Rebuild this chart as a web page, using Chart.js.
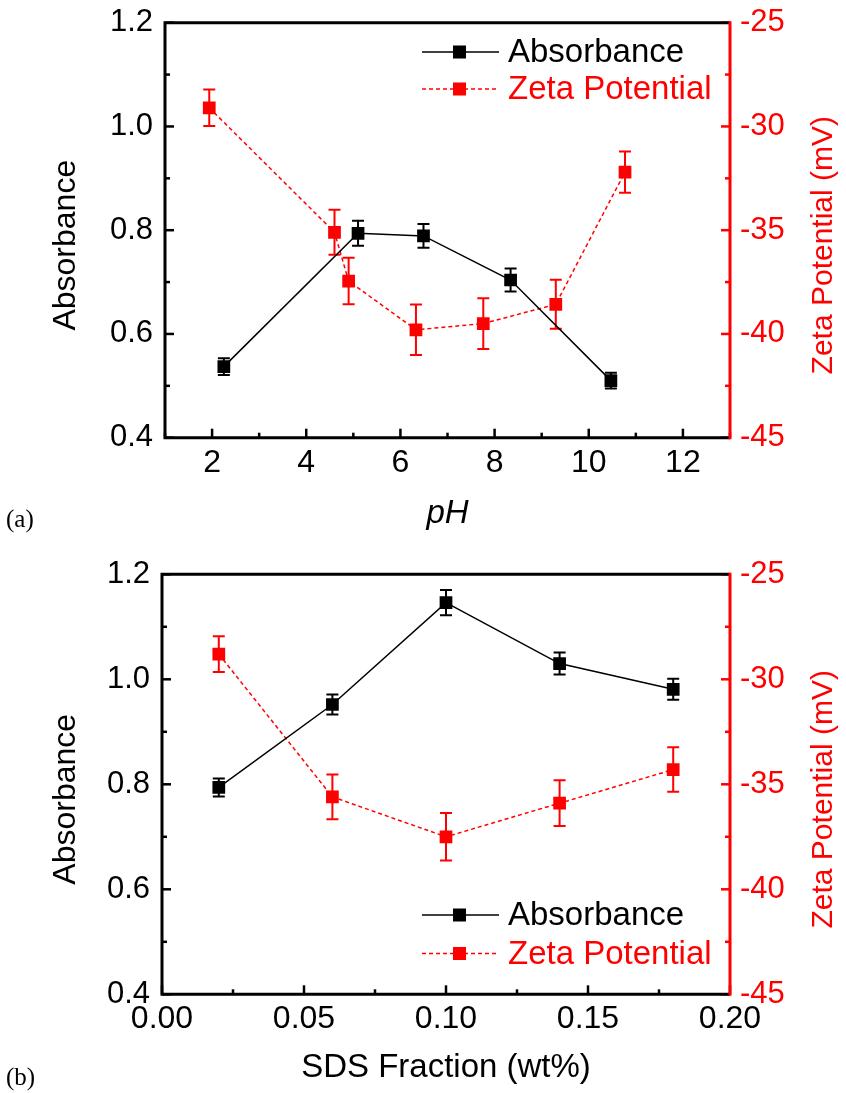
<!DOCTYPE html>
<html>
<head>
<meta charset="utf-8">
<script src="https://cdn.jsdelivr.net/npm/chart.js@4"></script>
<style>
  body { margin: 0; background: #fff; width: 846px; height: 1093px; position: relative; overflow: hidden; }
  canvas { position: absolute; left: 0; }
  .tag { position: absolute; left: 6px; font: 25px "Liberation Serif", "Times New Roman", serif; color: #000; }
</style>
</head>
<body>
<canvas id="chartA" width="846" height="545" style="top:0"></canvas>
<canvas id="chartB" width="846" height="548" style="top:545px"></canvas>
<div class="tag" style="top:505px">(a)</div>
<div class="tag" style="top:1063px">(b)</div>
<script>
// panel (a): pH series
var phAbs = [2.25, 5.10, 6.49, 8.34, 10.47];
var absA = [0.537, 0.794, 0.789, 0.704, 0.510];
var absAErr = [0.016, 0.024, 0.023, 0.022, 0.015];
var phZeta = [1.94, 4.60, 4.90, 6.33, 7.76, 9.30, 10.77];
var zetaA = [-29.1, -35.1, -37.45, -39.8, -39.5, -38.57, -32.2];
var zetaAErr = [0.88, 1.08, 1.12, 1.22, 1.22, 1.18, 0.99];

// panel (b): SDS fraction series
var sds = [0.02, 0.06, 0.10, 0.14, 0.18];
var absB = [0.794, 0.952, 1.146, 1.030, 0.981];
var absBErr = [0.017, 0.019, 0.024, 0.021, 0.020];
var zetaB = [-28.8, -35.6, -37.5, -35.9, -34.3];
var zetaBErr = [0.85, 1.07, 1.13, 1.09, 1.06];

var FONT = '"Liberation Sans", Arial, sans-serif';
Chart.defaults.font.family = FONT;
Chart.defaults.color = '#000';

function toPoints(xs, ys) {
  return xs.map(function(x, i) { return { x: x, y: ys[i] }; });
}

// error bars, inward ticks, frame, legend and y titles
var decor = {
  id: 'decor',
  beforeDatasetsDraw: function(chart) {
    var ctx = chart.ctx;
    chart.data.datasets.forEach(function(ds, i) {
      var meta = chart.getDatasetMeta(i);
      var yScale = chart.scales[ds.yAxisID];
      ctx.save();
      ctx.strokeStyle = ds.borderColor;
      ctx.lineWidth = 2;
      meta.data.forEach(function(pt, j) {
        var v = ds.data[j].y, e = ds.errors[j];
        var y1 = yScale.getPixelForValue(v + e), y2 = yScale.getPixelForValue(v - e);
        ctx.beginPath();
        ctx.moveTo(pt.x, y1); ctx.lineTo(pt.x, y2);
        ctx.moveTo(pt.x - 6, y1); ctx.lineTo(pt.x + 6, y1);
        ctx.moveTo(pt.x - 6, y2); ctx.lineTo(pt.x + 6, y2);
        ctx.stroke();
      });
      ctx.restore();
    });
  },
  afterDatasetsDraw: function(chart, args, opts) {
    var ctx = chart.ctx, a = chart.chartArea;
    var sx = chart.scales.x, sy = chart.scales.y, sy1 = chart.scales.y1;
    ctx.save();
    ctx.lineWidth = 2.5;
    ctx.strokeStyle = '#000';
    sx.ticks.forEach(function(t) {
      var px = sx.getPixelForValue(t.value), len = t.label !== '' ? 9 : 5;
      ctx.beginPath(); ctx.moveTo(px, a.bottom); ctx.lineTo(px, a.bottom - len); ctx.stroke();
    });
    sy.ticks.forEach(function(t) {
      var py = sy.getPixelForValue(t.value), len = t.label !== '' ? 9 : 5;
      ctx.beginPath(); ctx.moveTo(a.left, py); ctx.lineTo(a.left + len, py); ctx.stroke();
    });
    ctx.strokeStyle = '#ff0000';
    sy1.ticks.forEach(function(t) {
      var py = sy1.getPixelForValue(t.value), len = t.label !== '' ? 9 : 5;
      ctx.beginPath(); ctx.moveTo(a.right, py); ctx.lineTo(a.right - len, py); ctx.stroke();
    });

    // frame
    ctx.lineWidth = 3;
    ctx.strokeStyle = '#000';
    ctx.beginPath();
    ctx.moveTo(a.right, a.top); ctx.lineTo(a.left, a.top);
    ctx.lineTo(a.left, a.bottom); ctx.lineTo(a.right, a.bottom);
    ctx.stroke();
    ctx.strokeStyle = '#ff0000';
    ctx.beginPath(); ctx.moveTo(a.right, a.top - 1.5); ctx.lineTo(a.right, a.bottom + 1.5); ctx.stroke();

    // legend
    ctx.font = '33px ' + FONT;
    ctx.textBaseline = 'middle';
    chart.data.datasets.forEach(function(ds, i) {
      var y = opts.legendY[i];
      ctx.strokeStyle = ds.borderColor;
      ctx.lineWidth = ds.borderWidth;
      ctx.setLineDash(ds.borderDash || []);
      ctx.beginPath(); ctx.moveTo(422, y); ctx.lineTo(499, y); ctx.stroke();
      ctx.setLineDash([]);
      ctx.fillStyle = ds.backgroundColor;
      ctx.fillRect(453, y - 6.5, 13, 13);
      ctx.fillText(ds.label, 508, y + 1);
    });

    // y titles
    var cy = (a.top + a.bottom) / 2 + 15;
    ctx.textAlign = 'center';
    ctx.font = '32px ' + FONT;
    ctx.translate(66, cy); ctx.rotate(-Math.PI / 2);
    ctx.fillStyle = '#000';
    ctx.fillText('Absorbance', 0, 0);
    ctx.setTransform(1, 0, 0, 1, 0, 0);
    ctx.font = '30px ' + FONT;
    ctx.translate(824, cy); ctx.rotate(-Math.PI / 2);
    ctx.fillStyle = '#ff0000';
    ctx.fillText('Zeta Potential (mV)', 0, 0);
    ctx.restore();
  }
};

function makeChart(id, cfg) {
  var el = document.getElementById(id);
  if (!el) { console.error('canvas ' + id + ' not found'); return; }
  var H = el.height;
  return new Chart(el.getContext('2d'), {
    type: 'line',
    data: {
      datasets: [{
        label: 'Absorbance',
        data: cfg.abs,
        errors: cfg.absErr,
        yAxisID: 'y',
        borderColor: '#000000',
        backgroundColor: '#000000',
        borderWidth: 1.5,
        pointStyle: 'rect',
        pointRadius: 9,
        pointBorderWidth: 0,
        tension: 0
      }, {
        label: 'Zeta Potential',
        data: cfg.zeta,
        errors: cfg.zetaErr,
        yAxisID: 'y1',
        borderColor: '#ff0000',
        backgroundColor: '#ff0000',
        borderWidth: 1.5,
        borderDash: [4, 3],
        pointStyle: 'rect',
        pointRadius: 9,
        pointBorderWidth: 0,
        tension: 0
      }]
    },
    options: {
      responsive: false,
      animation: false,
      layout: { padding: { top: cfg.top, left: 0, right: 0, bottom: 0 } },
      plugins: {
        legend: { display: false },
        tooltip: { enabled: false },
        decor: { legendY: cfg.legendY }
      },
      scales: {
        x: {
          type: 'linear',
          min: cfg.xMin, max: cfg.xMax,
          grid: { display: false, drawTicks: false }, border: { display: false },
          ticks: {
            stepSize: cfg.xStep, autoSkip: false, maxRotation: 0, padding: 6,
            font: { size: 32 }, color: '#000',
            callback: cfg.xLabel
          },
          title: {
            display: true, text: cfg.xTitle, color: '#000',
            font: { size: 33, style: cfg.xItalic ? 'italic' : 'normal' },
            padding: { bottom: cfg.titlePad }
          },
          afterFit: function(s) { s.height = H - cfg.bottom; s.paddingLeft = 0; s.paddingRight = 0; }
        },
        y: {
          position: 'left',
          min: 0.4, max: 1.2,
          grid: { display: false, drawTicks: false }, border: { display: false },
          ticks: {
            stepSize: 0.1, autoSkip: false, padding: 12,
            font: { size: 31 }, color: '#000',
            callback: function(v) { return Math.round(v * 10) % 2 === 0 ? v.toFixed(1) : ''; }
          },
          afterFit: function(s) { s.width = cfg.left; s.paddingTop = 0; s.paddingBottom = 0; }
        },
        y1: {
          position: 'right',
          min: -45, max: -25,
          grid: { display: false, drawTicks: false }, border: { display: false },
          ticks: {
            stepSize: 2.5, autoSkip: false, padding: 10,
            font: { size: 31 }, color: '#ff0000',
            callback: function(v) { return v % 5 === 0 ? String(v) : ''; }
          },
          afterFit: function(s) { s.width = 846 - 730; s.paddingTop = 0; s.paddingBottom = 0; }
        }
      }
    },
    plugins: [decor]
  });
}

makeChart('chartA', {
  abs: toPoints(phAbs, absA), absErr: absAErr,
  zeta: toPoints(phZeta, zetaA), zetaErr: zetaAErr,
  xMin: 1, xMax: 13, xStep: 1,
  xLabel: function(v) { return v % 2 === 0 ? String(v) : ''; },
  xTitle: 'pH', xItalic: true, titlePad: 11,
  top: 22.7, bottom: 437.7, left: 165,
  legendY: [52, 89]
});

makeChart('chartB', {
  abs: toPoints(sds, absB), absErr: absBErr,
  zeta: toPoints(sds, zetaB), zetaErr: zetaBErr,
  xMin: 0, xMax: 0.2, xStep: 0.025,
  xLabel: function(v) { return Math.abs(v * 20 - Math.round(v * 20)) < 1e-6 ? v.toFixed(2) : ''; },
  xTitle: 'SDS Fraction (wt%)', xItalic: false, titlePad: 5,
  top: 29.3, bottom: 449.3, left: 162,
  legendY: [370, 408.5]
});
</script>
</body>
</html>
